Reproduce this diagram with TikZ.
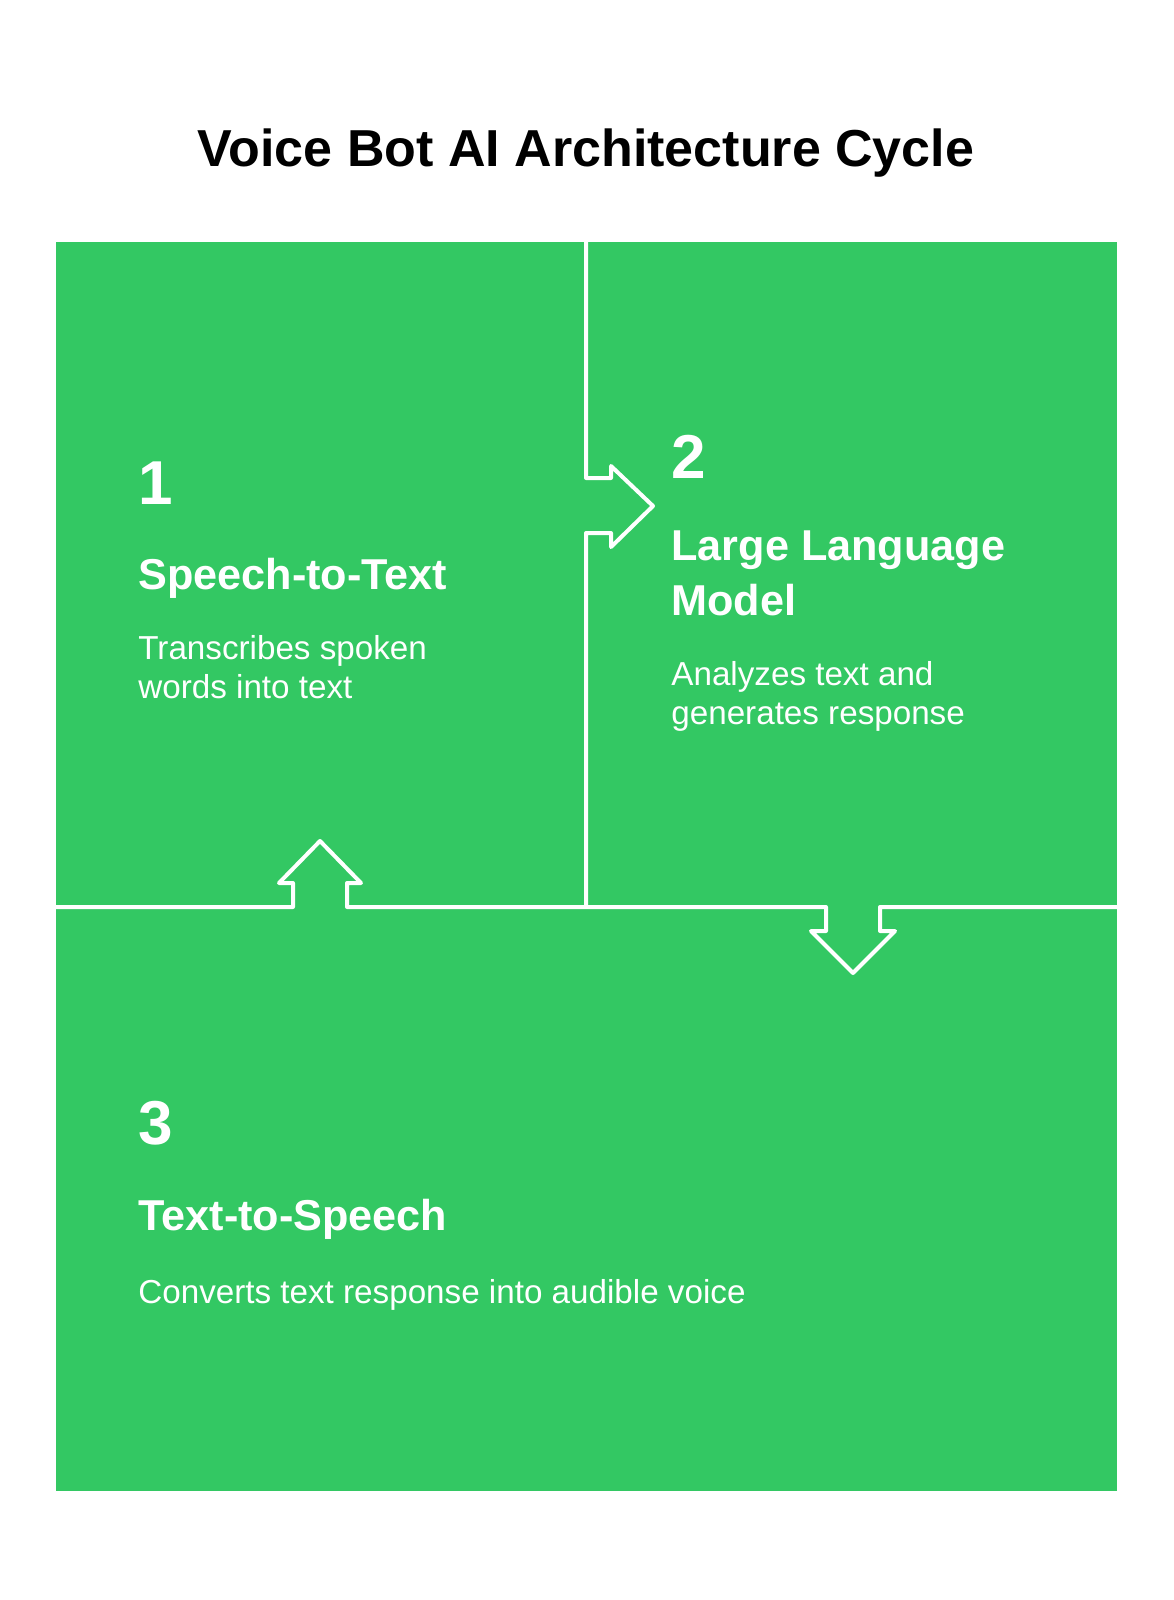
\documentclass[tikz,border=0pt]{standalone}
\usepackage{fontspec}
\setmainfont{Liberation Sans}
\definecolor{cyclegreen}{HTML}{33C863}

\begin{document}
\begin{tikzpicture}[x=0.5pt,y=-0.5pt,
  divider/.style={white,line width=2pt,line join=round},
  stepnum/.style={white,font=\bfseries\fontsize{31}{31}\selectfont,anchor=base west,inner sep=0},
  stephead/.style={white,font=\bfseries\fontsize{21.6}{21.6}\selectfont,anchor=base west,inner sep=0},
  stepdesc/.style={white,font=\fontsize{16.6}{16.6}\selectfont,anchor=base west,inner sep=0}]
\useasboundingbox (0,0) rectangle (1173,1600);
\fill[white] (0,0) rectangle (1173,1600);
\coordinate (TL) at (56,242);
\coordinate (BR) at (1117,1491);
\fill[cyclegreen] (TL) rectangle (BR);
% vertical divider with arrow to step 2
\coordinate (vtop) at (586,242);
\coordinate (vbot) at (586,907);
\draw[divider] (vtop) -- (586,478) -- (611,478) -- (611,466) -- (653,506)
  -- (611,547) -- (611,533) -- (586,533) -- (vbot);
% horizontal divider with arrows
\coordinate (hleft) at (56,907);
\coordinate (hright) at (1117,907);
\draw[divider] (hleft) -- (293,907) -- (293,883) -- (279,883) -- (320,841)
  -- (361,883) -- (347,883) -- (347,907) -- (826,907) -- (826,931)
  -- (811,931) -- (853,973) -- (895,931) -- (880,931) -- (880,907) -- (hright);
\node[anchor=base,font=\bfseries\fontsize{26}{26}\selectfont,inner sep=0] (title) at (586,166) {Voice Bot AI Architecture Cycle};
% step 1
\node[stepnum] (n1) at (138,504) {1};
\node[stephead] (h1) at (138,589) {Speech-to-Text};
\node[stepdesc] (d1a) at (138,659) {Transcribes spoken};
\node[stepdesc] (d1b) at (138,698) {words into text};
% step 2
\node[stepnum] (n2) at (671,478) {2};
\node[stephead] (h2a) at (671,560) {Large Language};
\node[stephead] (h2b) at (671,615) {Model};
\node[stepdesc] (d2a) at (671,685) {Analyzes text and};
\node[stepdesc] (d2b) at (671,724) {generates response};
% step 3
\node[stepnum] (n3) at (138,1144) {3};
\node[stephead] (h3) at (138,1230) {Text-to-Speech};
\node[stepdesc] (d3) at (138,1303) {Converts text response into audible voice};
\end{tikzpicture}
\end{document}
